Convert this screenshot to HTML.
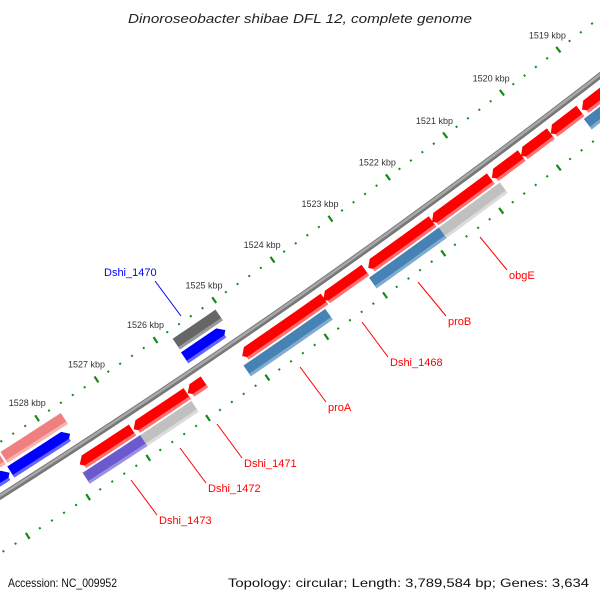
<!DOCTYPE html>
<html><head><meta charset="utf-8"><style>
html,body{margin:0;padding:0;background:#fff}
svg{display:block;font-family:"Liberation Sans","DejaVu Sans",sans-serif}
</style></head><body>
<svg id="map" width="600" height="600" viewBox="0 0 600 600">
<rect width="600" height="600" fill="#fff"/>
<text x="128" y="23" textLength="344" lengthAdjust="spacingAndGlyphs" font-size="13" font-style="italic" fill="#222">Dinoroseobacter shibae DFL 12, complete genome</text>
<g id="ticks"></g>
<g id="backbone"></g>
<g id="features"></g>
<g id="labels"></g>
<text x="8" y="587" textLength="109" lengthAdjust="spacingAndGlyphs" font-size="12" fill="#111">Accession: NC_009952</text>
<text x="228" y="587" textLength="361" lengthAdjust="spacingAndGlyphs" font-size="12" fill="#111">Topology: circular; Length: 3,789,584 bp; Genes: 3,634</text>
</svg>
<script>
var featNames=["f1","f2","f3","f4","f5","f6","f7","Dshi_1468r","f9","Dshi_1471","f11","s1","obgE","proB","proA","Dshi_1472","Dshi_1473","Dshi_1470b","b2","b3","Dshi_1470","p1","p2"];
var featStart=[1518.5,1519.28,1519.80,1520.31,1520.85,1521.86,1523.02,1523.72,1525.76,1526.05,1526.97,1518.5,1520.78,1521.84,1523.79,1526.06,1526.92,1525.11,1527.73,1528.74,1525.06,1527.68,1528.72];
var featEnd=[1519.25,1519.80,1520.32,1520.83,1521.87,1522.97,1523.74,1525.12,1526.04,1526.95,1527.85,1519.31,1521.91,1523.04,1525.18,1527.0,1527.88,1525.80,1528.72,1529.3,1525.79,1528.69,1529.3];
var featStrand=[1,1,1,1,1,1,1,1,1,1,1,0,0,0,0,0,0,-1,-1,-1,0,0,0];
var featSlot=[16,16,16,16,16,16,16,16,16,16,16,31,31,31,31,31,31,-15,-15,-15,-31,-31,-31];
var featColor=["#ff0000","#ff0000","#ff0000","#ff0000","#ff0000","#ff0000","#ff0000","#ff0000","#ff0000","#ff0000","#ff0000","#4682b4","#c0c0c0","#4682b4","#4682b4","#c0c0c0","#6a5acd","#0000ff","#0000ff","#0000ff","#666666","#f08080","#f08080"];
var featLight=["#ff7272","#ff7272","#ff7272","#ff7272","#ff7272","#ff7272","#ff7272","#ff7272","#ff7272","#ff7272","#ff7272","#82abd2","#dcdcdc","#82abd2","#82abd2","#dcdcdc","#9a90e4","#6464ff","#6464ff","#6464ff","#9a9a9a","#f6b4b4","#f6b4b4"];
var tickLabels=[1519,1520,1521,1522,1523,1524,1525,1526,1527,1528];
var labelText=["obgE","proB","Dshi_1468","proA","Dshi_1471","Dshi_1472","Dshi_1473","Dshi_1470"];
var labelColor=["#f00","#f00","#f00","#f00","#f00","#f00","#f00","#00f"];
var labelX=[509,448,390,328,244,208,159,104];
var labelY=[279,325,366,411,467,492,524,276];
var lineFrom=[[480,237],[418,282],[362,322],[300,367],[217,424],[180,448],[131,480],[155,281]];
var lineTo=[[507,270],[446,316],[388,357],[326,402],[242,458],[206,483],[157,515],[181,316]];

var CX=-4184,CY=-6104,R=7815;
var NS="http://www.w3.org/2000/svg";
function P(k,r){var t=(52.38+(k-1519)*0.5233)*Math.PI/180;var rad=R+r;return [CX+rad*Math.cos(t),CY+rad*Math.sin(t)];}
function mk(tag,parent){var e=document.createElementNS(NS,tag);parent.appendChild(e);return e;}
function pts(a){return a.map(function(p){return p[0].toFixed(2)+","+p[1].toFixed(2);}).join(" ");}

var bb=document.getElementById("backbone");
var arc=[];for(var k=1517;k<=1531;k+=0.5)arc.push(P(k,0));
var b1=mk("polyline",bb);b1.setAttribute("points",pts(arc));b1.setAttribute("fill","none");b1.setAttribute("stroke","#777");b1.setAttribute("stroke-width","6");


var arc2=[];for(var k=1517;k<=1531;k+=0.5)arc2.push(P(k,-0.8));
var b2=mk("polyline",bb);b2.setAttribute("points",pts(arc2));b2.setAttribute("fill","none");b2.setAttribute("stroke","#a8a8a8");b2.setAttribute("stroke-width","2.5");



var tg=document.getElementById("ticks");
for(var i=0;i<=60;i++){
  var k=1518+i*0.2;var major=(i%5===0);
  [-46,48].forEach(function(rc){
    var h=major?3.5:1;
    var a=P(k,rc-h),b=P(k,rc+h);
    var l=mk("line",tg);l.setAttribute("x1",a[0]);l.setAttribute("y1",a[1]);l.setAttribute("x2",b[0]);l.setAttribute("y2",b[1]);
    l.setAttribute("stroke","#138a13");l.setAttribute("stroke-width",major?"2.2":"2");
    
    
  });
}
tickLabels.forEach(function(v){
  var p=P(v,-64);var t=mk("text",tg);t.setAttribute("x",p[0]);t.setAttribute("y",p[1]+3);t.setAttribute("text-anchor","middle");t.setAttribute("font-size","9");t.setAttribute("fill","#333");
  t.textContent=v+" kbp";
  
  
});

var fg=document.getElementById("features");
for(var i=0;i<featNames.length;i++){
  var k1=featStart[i],k2=featEnd[i],r=featSlot[i],s=featStrand[i],h=6.5,a=0.09;
  function shape(rin,rout,rmid){
    var inner=[],outer=[];var n=6;
    var e1=k1+(s<0?a:0),e2=k2-(s>0?a:0);
    for(var j=0;j<=n;j++){var kk=e1+(e2-e1)*j/n;inner.push(P(kk,rin));outer.unshift(P(kk,rout));}
    var poly=inner.slice();
    if(s>0)poly.push(P(k2,rmid));
    poly=poly.concat(outer);
    if(s<0)poly.push(P(k1,rmid));
    return poly;
  }
  var g=mk("g",fg);
  
  
  var main=mk("polygon",g);main.setAttribute("points",pts(shape(r-h,r+h,r)));main.setAttribute("fill",featColor[i]);
  
  
  var lt=mk("polygon",g);
  var sh=(function(){var inner=[],outer=[];var n=6;var e1=k1+(s<0?a*0.5:0),e2=k2-(s>0?a*0.5:0);
    for(var j=0;j<=n;j++){var kk=e1+(e2-e1)*j/n;inner.push(P(kk,r+h-3));outer.unshift(P(kk,r+h));}
    return inner.concat(outer);})();
  lt.setAttribute("points",pts(sh));lt.setAttribute("fill",featLight[i]);
  
  
}

var lg=document.getElementById("labels");
for(var i=0;i<labelText.length;i++){
  var l=mk("line",lg);l.setAttribute("x1",lineFrom[i][0]);l.setAttribute("y1",lineFrom[i][1]);l.setAttribute("x2",lineTo[i][0]);l.setAttribute("y2",lineTo[i][1]);l.setAttribute("stroke",labelColor[i]);l.setAttribute("stroke-width","1");
  
  
  var t=mk("text",lg);t.setAttribute("x",labelX[i]);t.setAttribute("y",labelY[i]);t.setAttribute("font-size","11");t.setAttribute("fill",labelColor[i]);t.textContent=labelText[i];
  
  
}
</script>
</body></html>
